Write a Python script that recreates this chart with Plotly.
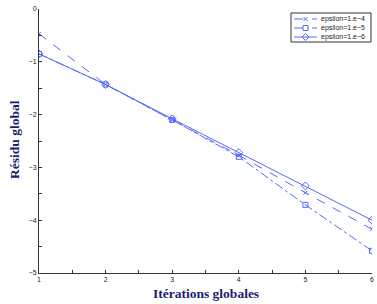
import plotly.graph_objects as go

iterations = [1, 2, 3, 4, 5, 6]
eps_1e4 = [-0.47, -1.43, -2.10, -2.77, -3.48, -4.17]
eps_1e5 = [-0.85, -1.43, -2.10, -2.80, -3.71, -4.58]
eps_1e6 = [-0.85, -1.43, -2.08, -2.72, -3.35, -4.00]
names = ["epsilon=1.e\u22124", "epsilon=1.e\u22125", "epsilon=1.e\u22126"]

W, H = 377, 304
L, R, T, B = 39, 5, 9, 31
PW, PH = W - L - R, H - T - B


def fx(px):
    return (px - L) / PW


def fy(py):
    return (H - B - py) / PH


col = "#5468ff"
fig = go.Figure()
fig.add_trace(go.Scatter(x=iterations, y=eps_1e4, name=names[0], mode="lines+markers",
                         line=dict(color=col, width=1, dash="dash"),
                         marker=dict(symbol="x-thin", size=4, line=dict(color=col, width=1))))
fig.add_trace(go.Scatter(x=iterations, y=eps_1e5, name=names[1], mode="lines+markers",
                         line=dict(color=col, width=1, dash="dashdot"),
                         marker=dict(symbol="square-open", size=5, color=col, line=dict(width=1))))
fig.add_trace(go.Scatter(x=iterations, y=eps_1e6, name=names[2], mode="lines+markers",
                         line=dict(color=col, width=1),
                         marker=dict(symbol="diamond-open", size=6, color=col, line=dict(width=1))))

axis_common = dict(showline=True, linecolor="#333", linewidth=1, mirror=False, automargin=False,
                   ticks="inside", ticklen=3, tickcolor="#333", showgrid=False, zeroline=False,
                   tickfont=dict(size=7, color="#222", family="Liberation Sans"),
                   minor=dict(ticks="inside", ticklen=3, dtick=0.5, tickcolor="#333"))
fig.update_xaxes(range=[1, 6], dtick=1, tick0=1, **axis_common)
fig.update_yaxes(range=[-5, 0], dtick=1, tick0=0, **axis_common)

title_font = dict(size=13.5, color="#1c1c6e", family="Liberation Serif")
annotations = [
    dict(text="<b>Itérations globales</b>", xref="paper", yref="paper", x=0.5, y=fy(293),
         showarrow=False, font=title_font, xanchor="center", yanchor="middle"),
    dict(text="<b>Résidu global</b>", xref="paper", yref="paper", x=fx(14), y=fy(140),
         showarrow=False, font=title_font, textangle=-90, xanchor="center", yanchor="middle"),
]

# compact legend (MATLAB style)
shapes = [dict(type="rect", xref="paper", yref="paper", x0=fx(291), x1=fx(371), y0=fy(42), y1=fy(13),
               line=dict(color="#333", width=1), fillcolor="white", layer="above")]
rows = [19, 28, 37]
dashes = ["dash", "dashdot", "solid"]
for i, (ry, nm, ds) in enumerate(zip(rows, names, dashes)):
    shapes.append(dict(type="line", xref="paper", yref="paper", x0=fx(294), x1=fx(317), y0=fy(ry), y1=fy(ry),
                       line=dict(color=col, width=1, dash=ds), layer="above"))
    cx = 305.5
    if i == 0:
        for a, b in [((-2, -2), (2, 2)), ((-2, 2), (2, -2))]:
            shapes.append(dict(type="line", xref="paper", yref="paper",
                               x0=fx(cx + a[0]), y0=fy(ry + a[1]), x1=fx(cx + b[0]), y1=fy(ry + b[1]),
                               line=dict(color=col, width=1), layer="above"))
    elif i == 1:
        shapes.append(dict(type="rect", xref="paper", yref="paper", x0=fx(cx - 2.5), x1=fx(cx + 2.5),
                           y0=fy(ry + 2.5), y1=fy(ry - 2.5), line=dict(color=col, width=1),
                           fillcolor="white", layer="above"))
    else:
        path = "M {},{} L {},{} L {},{} L {},{} Z".format(
            fx(cx - 3.5), fy(ry), fx(cx), fy(ry - 3.5), fx(cx + 3.5), fy(ry), fx(cx), fy(ry + 3.5))
        shapes.append(dict(type="path", xref="paper", yref="paper", path=path,
                           line=dict(color=col, width=1), fillcolor="rgba(0,0,0,0)", layer="above"))
    annotations.append(dict(text=nm, xref="paper", yref="paper", x=fx(319), y=fy(ry), showarrow=False,
                            xanchor="left", yanchor="middle",
                            font=dict(size=7, family="Liberation Sans", color="#222")))

fig.update_layout(width=W, height=H, margin=dict(l=L, r=R, t=T, b=B),
                  plot_bgcolor="white", paper_bgcolor="white", showlegend=False,
                  annotations=annotations, shapes=shapes)
fig.write_html("out.html", config={"displayModeBar": False},
               post_script="document.body.style.margin='0';document.body.style.overflow='hidden';")
